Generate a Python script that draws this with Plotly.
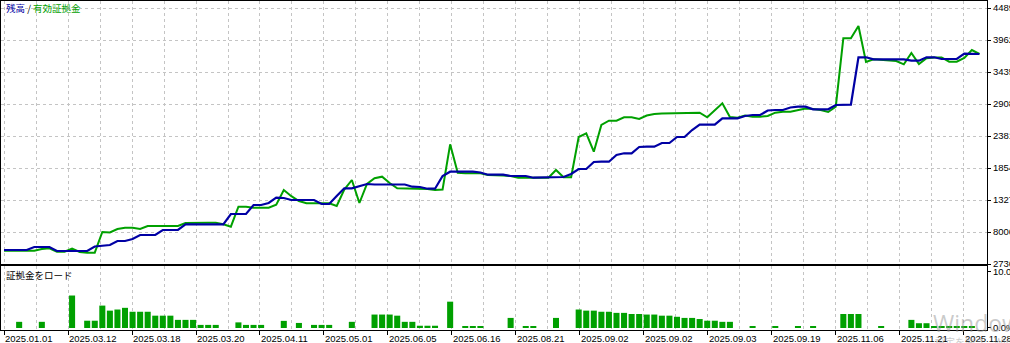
import plotly.graph_objects as go

# ---------------- data ----------------
deal = list(range(130))

balance = [
    5042, 5042, 5042, 5042, 5536, 5585, 5536, 4877, 4877, 4877,
    4877, 4877, 5618, 5700, 5865, 6524, 6524, 6853, 7512, 7512,
    7512, 8335, 8335, 8335, 9274, 9274, 9274, 9274, 9274, 9274,
    10971, 10971, 10971, 12453, 12453, 12782, 13655, 13606, 13276, 13276,
    13276, 13276, 12617, 12617, 13935, 15203, 15203, 15582, 15911, 15829,
    15829, 15829, 15829, 15829, 15467, 15417, 15137, 15137, 17229, 17937,
    17937, 17937, 17937, 17805, 17443, 17443, 17443, 17229, 17229, 17229,
    16949, 16949, 16982, 17064, 17064, 17558, 18382, 18382, 19534, 19584,
    19584, 20687, 20967, 20967, 22005, 22054, 22054, 22663, 22663, 23652,
    23652, 24804, 25677, 25677, 25677, 26731, 26731, 26731, 27110, 27275,
    27275, 28016, 28098, 28098, 28510, 28642, 28642, 28214, 28214, 28214,
    28922, 28971, 28971, 36777, 36777, 36448, 36448, 36448, 36448, 36448,
    36217, 36217, 36777, 36777, 36497, 36497, 36497, 37370, 37370, 37321,
]

equity = [
    4926, 4926, 4926, 4926, 4926, 5206, 5322, 4762, 4762, 5256,
    4712, 4597, 4597, 8006, 7924, 8500, 8714, 8714, 8500, 8994,
    8994, 8994, 8994, 8994, 9488, 9538, 9538, 9538, 9538, 9274,
    8879, 12173, 12173, 12008, 12008, 12008, 12500, 14923, 13900, 13111,
    12733, 12733, 12733, 12733, 12288, 15000, 16570, 12782, 15911, 16850,
    17113, 16076, 15203, 15203, 15203, 15203, 15088, 14923, 15005, 22449,
    17772, 17673, 17673, 17673, 17393, 17393, 17311, 17229, 16949, 16949,
    16949, 16949, 16949, 18217, 17015, 17015, 23652, 24261, 21231, 25628,
    26336, 26336, 26896, 26896, 26616, 27192, 27440, 27522, 27555, 27555,
    27555, 27604, 27654, 26896, 28098, 29202, 26945, 26830, 27192, 26995,
    26995, 27110, 27654, 27818, 27818, 28098, 28345, 28263, 28098, 27769,
    28642, 39907, 39907, 41932, 36003, 36448, 36333, 36250, 36168, 35625,
    37486, 35674, 36613, 36744, 36744, 36053, 36053, 36662, 37980, 37321,
]

margin_load = [
    0, 0, 1.1, 0, 0, 1.1, 0, 0, 0, 5.8,
    0, 1.3, 1.3, 4.0, 3.1, 3.3, 3.6, 2.9, 2.9, 2.9,
    2.2, 2.2, 2.2, 1.45, 1.45, 1.45, 0.55, 0.55, 0.55, 0,
    0, 1.0, 0.55, 0.55, 0.55, 0, 0, 1.27, 0, 0.9,
    0, 0.55, 0.55, 0.55, 0, 0, 1.1, 0, 0, 2.4,
    2.4, 2.4, 2.2, 1.1, 1.1, 0.4, 0.4, 0.4, 0, 4.7,
    0, 0.36, 0.36, 0.36, 0, 0, 0, 1.8, 0, 0.36,
    0.36, 0, 0, 1.8, 0, 0, 3.3, 3.1, 3.1, 2.9,
    2.9, 2.7, 2.7, 2.5, 2.5, 2.4, 2.4, 2.2, 2.2, 2.0,
    1.8, 1.8, 1.6, 1.3, 1.3, 1.1, 1.1, 0, 0, 0.36,
    0, 0, 0.36, 0, 0, 0.36, 0, 0.36, 0, 0,
    0, 2.5, 2.5, 2.5, 0, 0, 0.36, 0, 0, 0,
    1.45, 0.85, 0.85, 0.3, 0.3, 0.3, 0.3, 0.3, 0.3, 0,
]

date_labels = [
    "2025.01.01", "2025.03.12", "2025.03.18", "2025.03.20",
    "2025.04.11", "2025.05.01", "2025.06.05", "2025.06.16",
    "2025.08.21", "2025.09.02", "2025.09.02", "2025.09.03",
    "2025.09.19", "2025.11.06", "2025.11.21", "2025.11.28",
]

value_ticks = [2736, 8006, 13276, 18546, 23816, 29086, 34356, 39626, 44896]
load_ticks = [0, 10]
load_tick_text = ["0.0%", "10.0%"]

# ---------------- styling / layout ----------------
W, H = 1010, 343
ML, MR, MT, MB = 1, 23, 1, 13
PLOT_H = H - MT - MB

BLUE = "#0000a4"
GREEN = "#00a000"
GRID = "#c4c4c4"
FONT = "Liberation Sans"

LABEL_STEP = 8.463           # deals between labelled ticks
label_pos = [i * LABEL_STEP for i in range(len(date_labels))]
minor_pos = [p + LABEL_STEP / 2 for p in label_pos]

X_RANGE = [-0.4, 130.0]


def py(pix):
    """pixel row -> paper y"""
    return (H - MB - pix) / PLOT_H


def px(pix):
    return (pix - ML) / (W - ML - MR)


fig = go.Figure()

fig.add_trace(go.Scatter(x=deal, y=equity, mode="lines",
                         line=dict(color=GREEN, width=2),
                         xaxis="x", yaxis="y", showlegend=False))
fig.add_trace(go.Scatter(x=deal, y=balance, mode="lines",
                         line=dict(color=BLUE, width=2.2),
                         xaxis="x", yaxis="y", showlegend=False))
fig.add_trace(go.Bar(x=deal, y=margin_load, marker=dict(color=GREEN, line=dict(width=0)),
                     xaxis="x2", yaxis="y2", showlegend=False))

common_x = dict(
    range=X_RANGE, showline=True, mirror=True, linecolor="black", linewidth=1,
    zeroline=False, showgrid=True, gridcolor=GRID, griddash="3px,3px", gridwidth=1,
    tickvals=label_pos, automargin=False,
    minor=dict(tickvals=minor_pos, showgrid=True, gridcolor=GRID,
               griddash="3px,3px", gridwidth=1, ticks=""),
)

fig.update_layout(
    width=W, height=H,
    margin=dict(l=ML, r=MR, t=MT, b=MB, pad=0, autoexpand=False),
    paper_bgcolor="white", plot_bgcolor="white",
    bargap=0.2,
    font=dict(family=FONT, size=10, color="black"),
    xaxis=dict(domain=[0, 1], anchor="y", showticklabels=False, ticks="", **common_x),
    xaxis2=dict(domain=[0, 1], anchor="y2", matches="x", ticktext=date_labels,
                ticks="outside", ticklen=4, tickcolor="black",
                ticklabelposition="outside right", ticklabeloverflow="allow",
                tickfont=dict(family=FONT, size=9.5, color="black"), **common_x),
    yaxis=dict(domain=[py(264), 1], anchor="x", side="right", range=[2736, 46049],
               tickvals=value_ticks, ticktext=[str(v) for v in value_ticks],
               ticks="outside", ticklen=3, tickcolor="black", automargin=False,
               ticklabeloverflow="allow",
               tickfont=dict(family=FONT, size=9.5, color="black"),
               showgrid=True, gridcolor=GRID, griddash="3px,3px", gridwidth=1,
               zeroline=False, showline=True, mirror=True, linecolor="black", linewidth=1),
    yaxis2=dict(domain=[0, py(266)], anchor="x2", side="right", range=[-0.36, 11.07],
                tickvals=load_ticks, ticktext=load_tick_text,
                ticks="outside", ticklen=3, tickcolor="black", automargin=False,
                ticklabeloverflow="allow",
                tickfont=dict(family=FONT, size=9.5, color="black"),
                showgrid=False, zeroline=False, showline=True, mirror=True,
                linecolor="black", linewidth=1),
)

CJK = "Noto Sans CJK JP"
fig.add_annotation(
    xref="paper", yref="paper", x=px(4), y=py(8), xanchor="left", yanchor="middle",
    showarrow=False, font=dict(family=CJK, size=9.5),
    text=f"<span style='color:{BLUE}'>残高</span> / <span style='color:{GREEN}'>有効証拠金</span>",
)
fig.add_annotation(
    xref="paper", yref="paper", x=px(4), y=py(275), xanchor="left", yanchor="middle",
    showarrow=False, font=dict(family=CJK, size=9.5, color="black"),
    text="証拠金をロード",
)
# OS watermark visible in the screenshot
fig.add_annotation(
    xref="paper", yref="paper", x=px(931), y=py(323), xanchor="left", yanchor="middle",
    showarrow=False, font=dict(family="Open Sans", size=23, color="rgba(150,150,150,0.5)"),
    text="Windows のライセンス認証",
)
fig.add_annotation(
    xref="paper", yref="paper", x=px(933), y=py(342), xanchor="left", yanchor="middle",
    showarrow=False, font=dict(family=CJK, size=10, color="rgba(150,150,150,0.5)"),
    text="設定を開き、Windows のライセンス認証を行ってください。",
)

fig.write_html("out.html")
